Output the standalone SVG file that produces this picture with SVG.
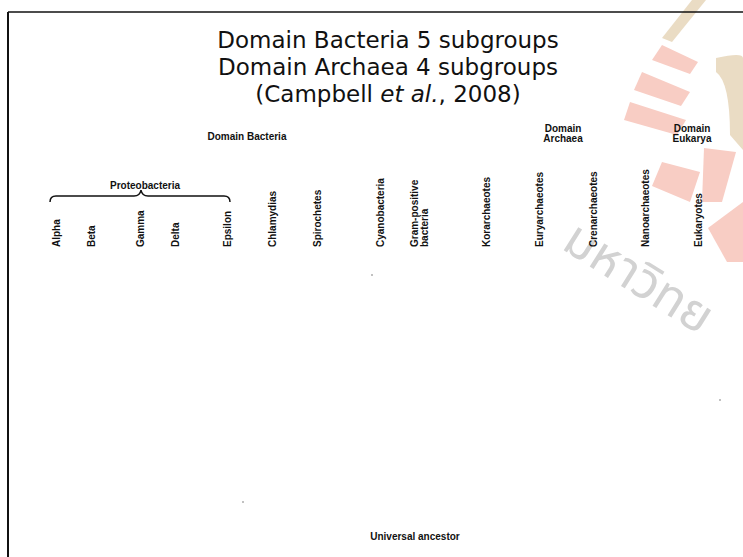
<svg xmlns="http://www.w3.org/2000/svg" width="743" height="557" viewBox="0 0 743 557">
<style>
.title{font-family:"DejaVu Sans",Verdana,sans-serif;font-size:23px;fill:#111;text-anchor:middle}
.lbl{font-family:"Liberation Sans",Arial,sans-serif;font-size:10px;font-weight:bold;fill:#111}
.dom{font-family:"Liberation Sans",Arial,sans-serif;font-size:10px;font-weight:bold;fill:#111;text-anchor:middle}
.wm{fill:#f8cdc4}
</style>
<rect width="743" height="557" fill="#fff"/>
<g id="watermark">
<path d="M692,0 L706,0 L672,42 L662,38 Z" fill="#eadcc4"/>
<path d="M716,58 Q743,52 743,58 L743,150 L730,135 Q730,82 716,72 Z" fill="#eadcc4"/>
<path class="wm" d="M662,45 L698,62 L690,74 L652,60 Z"/>
<path class="wm" d="M642,72 L690,92 L681,106 L634,90 Z"/>
<path class="wm" d="M630,102 L686,120 L677,135 L624,120 Z"/>
<path class="wm" d="M662,162 L700,172 L690,202 L652,186 Z"/>
<path class="wm" d="M704,148 L736,152 L722,202 L702,202 Z"/>
<path class="wm" d="M708,228 L743,202 L743,262 L727,262 Z"/>
<text x="0" y="0" transform="translate(560,248) rotate(32)" style="font-family:'Noto Sans Thai','Noto Sans','DejaVu Sans',sans-serif;font-size:50px;fill:#d2d2d2">มหาวิทย</text>
</g>
<g id="frame" stroke="#111" fill="none">
<line x1="8" y1="12" x2="8" y2="557" stroke-width="2"/>
<line x1="8" y1="12" x2="743" y2="12" stroke-width="1.5"/>
</g>
<g id="title">
<text class="title" x="388" y="48">Domain Bacteria 5 subgroups</text>
<text class="title" x="388" y="75">Domain Archaea 4 subgroups</text>
<text class="title" x="388" y="102">(Campbell <tspan font-style="italic">et al.</tspan>, 2008)</text>
</g>
<g id="domains">
<text class="dom" x="247" y="140">Domain Bacteria</text>
<text class="dom" x="563" y="132">Domain<tspan x="563" dy="10">Archaea</tspan></text>
<text class="dom" x="692" y="132">Domain<tspan x="692" dy="10">Eukarya</tspan></text>
</g>
<g id="connectors" fill="none" stroke="#111" stroke-width="1.5">
<path d="M50,202 Q50,196 56,196 L134,196 Q140,196 141,190 Q142,196 148,196 L224,196 Q230,196 230,202"/>
</g>
<g id="proteobacteria">
<text class="dom" x="145" y="189">Proteobacteria</text>
</g>
<g id="leaves">
<text class="lbl" transform="translate(60,247) rotate(-90)">Alpha</text>
<text class="lbl" transform="translate(95,247) rotate(-90)">Beta</text>
<text class="lbl" transform="translate(144,247) rotate(-90)">Gamma</text>
<text class="lbl" transform="translate(179,247) rotate(-90)">Delta</text>
<text class="lbl" transform="translate(231,247) rotate(-90)">Epsilon</text>
<text class="lbl" transform="translate(276,247) rotate(-90)">Chlamydias</text>
<text class="lbl" transform="translate(321,247) rotate(-90)">Spirochetes</text>
<text class="lbl" transform="translate(384,247) rotate(-90)">Cyanobacteria</text>
<text class="lbl" transform="translate(418,247) rotate(-90)">Gram-positive</text>
<text class="lbl" transform="translate(428,247) rotate(-90)">bacteria</text>
<text class="lbl" transform="translate(490,247) rotate(-90)">Korarchaeotes</text>
<text class="lbl" transform="translate(543,247) rotate(-90)">Euryarchaeotes</text>
<text class="lbl" transform="translate(597,247) rotate(-90)">Crenarchaeotes</text>
<text class="lbl" transform="translate(649,247) rotate(-90)">Nanoarchaeotes</text>
<text class="lbl" transform="translate(702,247) rotate(-90)">Eukaryotes</text>
</g>
<g id="root">
<text class="dom" x="415" y="540">Universal ancestor</text>
</g>
<g id="specks" fill="#555">
<circle cx="372" cy="275" r="0.7"/>
<circle cx="720" cy="400" r="0.7"/>
<circle cx="243" cy="502" r="0.7"/>
</g>
</svg>
